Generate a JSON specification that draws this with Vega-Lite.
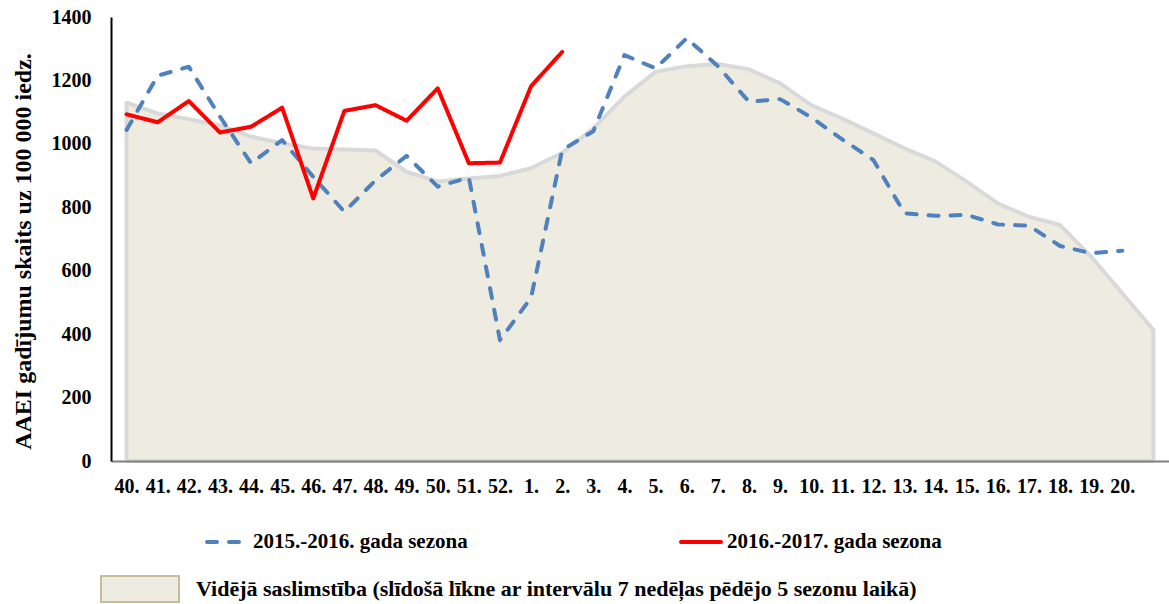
{
  "$schema": "https://vega.github.io/schema/vega-lite/v6.json",
  "width": 1058,
  "height": 444,
  "autosize": {"type": "none"},
  "padding": {"left": 111, "top": 17, "right": 0, "bottom": 143},
  "background": "white",
  "config": {"view": {"stroke": null}, "font": "Liberation Serif"},
  "datasets": {
    "avg": [
      {"week": "40.", "value": 1130}, {"week": "41.", "value": 1096}, {"week": "42.", "value": 1078},
      {"week": "43.", "value": 1058}, {"week": "44.", "value": 1023}, {"week": "45.", "value": 1002},
      {"week": "46.", "value": 985}, {"week": "47.", "value": 982}, {"week": "48.", "value": 979},
      {"week": "49.", "value": 912}, {"week": "50.", "value": 881}, {"week": "51.", "value": 891},
      {"week": "52.", "value": 899}, {"week": "1.", "value": 923}, {"week": "2.", "value": 972},
      {"week": "3.", "value": 1049}, {"week": "4.", "value": 1149}, {"week": "5.", "value": 1227},
      {"week": "6.", "value": 1245}, {"week": "7.", "value": 1252}, {"week": "8.", "value": 1235},
      {"week": "9.", "value": 1191}, {"week": "10.", "value": 1122}, {"week": "11.", "value": 1080},
      {"week": "12.", "value": 1033}, {"week": "13.", "value": 986}, {"week": "14.", "value": 944},
      {"week": "15.", "value": 881}, {"week": "16.", "value": 812}, {"week": "17.", "value": 770},
      {"week": "18.", "value": 744}, {"week": "19.", "value": 644}, {"week": "20.", "value": 529},
      {"week": "21.", "value": 413}
    ],
    "lines": [
      {"season": "2015.-2016. gada sezona", "week": "40.", "value": 1044},
      {"season": "2015.-2016. gada sezona", "week": "41.", "value": 1215},
      {"season": "2015.-2016. gada sezona", "week": "42.", "value": 1243},
      {"season": "2015.-2016. gada sezona", "week": "43.", "value": 1086},
      {"season": "2015.-2016. gada sezona", "week": "44.", "value": 939},
      {"season": "2015.-2016. gada sezona", "week": "45.", "value": 1012},
      {"season": "2015.-2016. gada sezona", "week": "46.", "value": 896},
      {"season": "2015.-2016. gada sezona", "week": "47.", "value": 786},
      {"season": "2015.-2016. gada sezona", "week": "48.", "value": 885},
      {"season": "2015.-2016. gada sezona", "week": "49.", "value": 962},
      {"season": "2015.-2016. gada sezona", "week": "50.", "value": 865},
      {"season": "2015.-2016. gada sezona", "week": "51.", "value": 894},
      {"season": "2015.-2016. gada sezona", "week": "52.", "value": 381},
      {"season": "2015.-2016. gada sezona", "week": "1.", "value": 515},
      {"season": "2015.-2016. gada sezona", "week": "2.", "value": 981},
      {"season": "2015.-2016. gada sezona", "week": "3.", "value": 1040},
      {"season": "2015.-2016. gada sezona", "week": "4.", "value": 1280},
      {"season": "2015.-2016. gada sezona", "week": "5.", "value": 1238},
      {"season": "2015.-2016. gada sezona", "week": "6.", "value": 1333},
      {"season": "2015.-2016. gada sezona", "week": "7.", "value": 1245},
      {"season": "2015.-2016. gada sezona", "week": "8.", "value": 1133},
      {"season": "2015.-2016. gada sezona", "week": "9.", "value": 1141},
      {"season": "2015.-2016. gada sezona", "week": "10.", "value": 1084},
      {"season": "2015.-2016. gada sezona", "week": "11.", "value": 1014},
      {"season": "2015.-2016. gada sezona", "week": "12.", "value": 949},
      {"season": "2015.-2016. gada sezona", "week": "13.", "value": 781},
      {"season": "2015.-2016. gada sezona", "week": "14.", "value": 773},
      {"season": "2015.-2016. gada sezona", "week": "15.", "value": 776},
      {"season": "2015.-2016. gada sezona", "week": "16.", "value": 746},
      {"season": "2015.-2016. gada sezona", "week": "17.", "value": 742},
      {"season": "2015.-2016. gada sezona", "week": "18.", "value": 678},
      {"season": "2015.-2016. gada sezona", "week": "19.", "value": 655},
      {"season": "2015.-2016. gada sezona", "week": "20.", "value": 663},
      {"season": "2016.-2017. gada sezona", "week": "40.", "value": 1093},
      {"season": "2016.-2017. gada sezona", "week": "41.", "value": 1068},
      {"season": "2016.-2017. gada sezona", "week": "42.", "value": 1135},
      {"season": "2016.-2017. gada sezona", "week": "43.", "value": 1036},
      {"season": "2016.-2017. gada sezona", "week": "44.", "value": 1054},
      {"season": "2016.-2017. gada sezona", "week": "45.", "value": 1114},
      {"season": "2016.-2017. gada sezona", "week": "46.", "value": 828},
      {"season": "2016.-2017. gada sezona", "week": "47.", "value": 1104},
      {"season": "2016.-2017. gada sezona", "week": "48.", "value": 1122},
      {"season": "2016.-2017. gada sezona", "week": "49.", "value": 1073},
      {"season": "2016.-2017. gada sezona", "week": "50.", "value": 1175},
      {"season": "2016.-2017. gada sezona", "week": "51.", "value": 939},
      {"season": "2016.-2017. gada sezona", "week": "52.", "value": 941},
      {"season": "2016.-2017. gada sezona", "week": "1.", "value": 1182},
      {"season": "2016.-2017. gada sezona", "week": "2.", "value": 1290}
    ]
  },
  "encoding": {
    "x": {
      "field": "week",
      "type": "ordinal",
      "scale": {
        "type": "point",
        "padding": 0.5,
        "domain": ["40.", "41.", "42.", "43.", "44.", "45.", "46.", "47.", "48.", "49.", "50.", "51.", "52.", "1.", "2.", "3.", "4.", "5.", "6.", "7.", "8.", "9.", "10.", "11.", "12.", "13.", "14.", "15.", "16.", "17.", "18.", "19.", "20.", "21."]
      },
      "axis": {
        "title": null,
        "domainColor": "#808080",
        "domainWidth": 2,
        "ticks": false,
        "tickSize": 0,
        "labelFont": "Liberation Serif",
        "labelFontWeight": "bold",
        "labelFontSize": 20,
        "labelColor": "black",
        "labelPadding": 15,
        "labelAngle": 0,
        "labelOverlap": false,
        "labelExpr": "datum.value == '21.' ? '' : datum.value",
        "zindex": 1
      }
    },
    "y": {
      "field": "value",
      "type": "quantitative",
      "scale": {"domain": [0, 1400], "nice": false},
      "axis": {
        "title": "AAEI gadījumu skaits uz 100 000 iedz.",
        "titleFont": "Liberation Serif",
        "titleFontSize": 24,
        "titleFontWeight": "bold",
        "titleColor": "black",
        "titlePadding": 16,
        "titleY": 234,
        "domainColor": "black",
        "domainWidth": 2,
        "ticks": false,
        "tickSize": 0,
        "grid": false,
        "format": "d",
        "values": [0, 200, 400, 600, 800, 1000, 1200, 1400],
        "labelFont": "Liberation Serif",
        "labelFontWeight": "bold",
        "labelFontSize": 20,
        "labelColor": "black",
        "labelPadding": 20,
        "zindex": 1
      }
    }
  },
  "layer": [
    {
      "data": {"name": "avg"},
      "mark": {"type": "area", "stroke": "#D9D9D9", "strokeWidth": 4, "strokeJoin": "round", "opacity": 1, "fillOpacity": 1},
      "encoding": {
        "fill": {
          "datum": "Vidējā saslimstība (slīdošā līkne ar intervālu 7 nedēļas pēdējo 5 sezonu laikā)",
          "type": "nominal",
          "scale": {"range": ["#EEEBE1"]},
          "legend": {
            "title": null,
            "orient": "none",
            "legendX": -11,
            "legendY": 532,
            "padding": 0,
            "symbolType": "M-1,-0.333L1,-0.333L1,0.333L-1,0.333Z",
            "symbolSize": 6084,
            "symbolStrokeColor": "#C4BD97",
            "symbolStrokeWidth": 2,
            "symbolOpacity": 1,
            "labelOffset": 16,
            "labelFont": "Liberation Serif",
            "labelFontWeight": "bold",
            "labelFontSize": 22,
            "labelColor": "black",
            "labelLimit": 1000
          }
        }
      }
    },
    {
      "data": {"name": "lines"},
      "mark": {"type": "line", "strokeWidth": 4, "strokeCap": "round", "strokeJoin": "round"},
      "encoding": {
        "color": {
          "field": "season",
          "type": "nominal",
          "scale": {"domain": ["2015.-2016. gada sezona", "2016.-2017. gada sezona"], "range": ["#4F81BD", "#FF0000"]},
          "legend": {
            "title": null,
            "orient": "none",
            "direction": "horizontal",
            "legendX": 94,
            "legendY": 503,
            "padding": 0,
            "symbolType": "stroke",
            "symbolSize": 1600,
            "symbolStrokeWidth": 4,
            "columnPadding": 205,
            "labelOffset": 4,
            "labelFont": "Liberation Serif",
            "labelFontWeight": "bold",
            "labelFontSize": 21,
            "labelColor": "black",
            "labelLimit": 1000,
            "encode": {"symbols": {"update": {"strokeCap": {"value": "round"}}}}
          }
        },
        "strokeDash": {
          "field": "season",
          "type": "nominal",
          "scale": {"domain": ["2015.-2016. gada sezona", "2016.-2017. gada sezona"], "range": [[10, 12], [1, 0]]},
          "legend": {
            "title": null,
            "orient": "none",
            "direction": "horizontal",
            "legendX": 94,
            "legendY": 503,
            "padding": 0,
            "symbolType": "stroke",
            "symbolSize": 1600,
            "symbolStrokeWidth": 4,
            "columnPadding": 205,
            "labelOffset": 4,
            "labelFont": "Liberation Serif",
            "labelFontWeight": "bold",
            "labelFontSize": 21,
            "labelColor": "black",
            "labelLimit": 1000,
            "encode": {"symbols": {"update": {"strokeCap": {"value": "round"}}}}
          }
        }
      }
    }
  ]
}
